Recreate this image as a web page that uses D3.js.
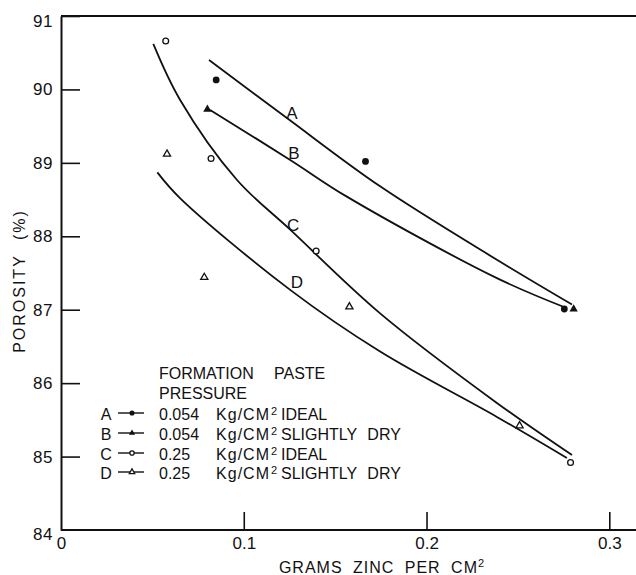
<!DOCTYPE html>
<html>
<head>
<meta charset="utf-8">
<script src="https://cdn.jsdelivr.net/npm/d3@7"></script>
<style>
  body { margin: 0; background: #fff; }
  text { font-family: "Liberation Sans", Arial, sans-serif; fill: #111; }
</style>
</head>
<body>
<svg id="chart" width="636" height="575"></svg>
<script>
// Axis ticks
const xTicks = [0, 0.1, 0.2, 0.3];
const xTickLabels = ["0", "0.1", "0.2", "0.3"];
const yTicks = [84, 85, 86, 87, 88, 89, 90, 91];

// Series keys and legend text
const seriesKeys = ["A", "B", "C", "D"];
const legendPressure = ["0.054", "0.054", "0.25", "0.25"];
const legendCondition = ["IDEAL", "SLIGHTLY DRY", "IDEAL", "SLIGHTLY DRY"];

// Measured points: [grams zinc per cm², porosity %]
const pointsA = [[0.0849, 90.13], [0.1666, 89.02], [0.2754, 87.01]];
const pointsB = [[0.0801, 89.73], [0.2805, 87.01]];
const pointsC = [[0.0573, 90.66], [0.0821, 89.06], [0.1396, 87.80], [0.2788, 84.92]];
const pointsD = [[0.0580, 89.12], [0.0784, 87.44], [0.1578, 87.04], [0.2509, 85.42]];

// Fitted curves
const curveA = [[0.0810, 90.40], [0.1236, 89.61], [0.1746, 88.68], [0.2385, 87.68], [0.2796, 87.07]];
const curveB = [[0.0816, 89.72], [0.1254, 89.04], [0.1564, 88.54], [0.2385, 87.43], [0.2759, 87.03]];
const curveC = [[0.0505, 90.62], [0.0651, 89.86], [0.0962, 88.77], [0.1254, 88.09], [0.1746, 86.95], [0.2385, 85.73], [0.2796, 85.02]];
const curveD = [[0.0527, 88.87], [0.0651, 88.52], [0.1254, 87.27], [0.1746, 86.43], [0.2385, 85.54], [0.2768, 84.98]];

// Curve label anchors (data units)
const curveLabelPos = [[0.1264, 89.6], [0.1275, 89.05], [0.1270, 88.07], [0.1290, 87.3]];

const svg = d3.select("#chart");
svg.append("rect").attr("width", 636).attr("height", 575).attr("fill", "#fff");

const x = d3.scaleLinear().domain([0, 0.3]).range([61, 609.3]);
const y = d3.scaleLinear().domain([84, 91]).range([530, 16]);

const ink = "#111";

// Frame lines (top and bottom run to the right edge)
svg.append("line").attr("x1", 61).attr("x2", 636).attr("y1", y(91)).attr("y2", y(91))
  .attr("stroke", ink).attr("stroke-width", 2);
svg.append("line").attr("x1", 61).attr("x2", 636).attr("y1", y(84)).attr("y2", y(84))
  .attr("stroke", ink).attr("stroke-width", 2);

// Y axis with inward ticks
const yAxis = svg.append("g").attr("transform", `translate(${x(0)},0)`)
  .call(d3.axisLeft(y).tickValues(yTicks).tickFormat(d3.format("d"))
    .tickSizeInner(-19).tickSizeOuter(0).tickPadding(8));
yAxis.select(".domain").attr("stroke", ink).attr("stroke-width", 2);
yAxis.selectAll(".tick line").attr("stroke", ink).attr("stroke-width", 1.6);
yAxis.selectAll(".tick text").attr("font-size", 17).attr("fill", ink)
  .attr("font-family", "\"Liberation Sans\", Arial, sans-serif").attr("letter-spacing", 0.5);
yAxis.selectAll(".tick").filter(d => d === 84).select("line").remove();
yAxis.selectAll(".tick").filter(d => d === 84).select("text").attr("dy", "0.55em");
yAxis.selectAll(".tick").filter(d => d === 91).select("text").attr("dy", "0.6em");

// X axis with inward ticks
const xAxis = svg.append("g").attr("transform", `translate(0,${y(84)})`)
  .call(d3.axisBottom(x).tickValues(xTicks).tickFormat((d, i) => xTickLabels[i])
    .tickSizeInner(-18).tickSizeOuter(0).tickPadding(7));
xAxis.select(".domain").remove();
xAxis.selectAll(".tick line").attr("stroke", ink).attr("stroke-width", 1.6);
xAxis.selectAll(".tick").filter(d => d === 0).select("line").remove();
xAxis.selectAll(".tick text").attr("font-size", 17).attr("fill", ink)
  .attr("font-family", "\"Liberation Sans\", Arial, sans-serif");

// Axis titles
svg.append("text")
  .attr("transform", `translate(25,281) rotate(-90)`)
  .attr("text-anchor", "middle").attr("font-size", 16)
  .attr("letter-spacing", 2).attr("word-spacing", 8)
  .text("POROSITY (%)");

const xt = svg.append("text").attr("x", 382).attr("y", 573)
  .attr("text-anchor", "middle").attr("font-size", 16)
  .attr("letter-spacing", 1).attr("word-spacing", 5);
xt.append("tspan").text("GRAMS ZINC PER CM");
xt.append("tspan").attr("font-size", 11).attr("dy", -6).text("2");

// Curves
const line = d3.line().x(d => x(d[0])).y(d => y(d[1])).curve(d3.curveCatmullRom.alpha(0.5));
[curveA, curveB, curveC, curveD].forEach(c => {
  svg.append("path").attr("d", line(c)).attr("fill", "none")
    .attr("stroke", ink).attr("stroke-width", 1.8).attr("stroke-linejoin", "round");
});

// Curve labels
seriesKeys.forEach((k, i) => {
  svg.append("text").attr("x", x(curveLabelPos[i][0])).attr("y", y(curveLabelPos[i][1]))
    .attr("text-anchor", "middle").attr("font-size", 17).text(k);
});

// Marker drawing
function marker(g, kind, cx, cy, scale) {
  const s = scale || 1;
  if (kind === "A") {
    g.append("circle").attr("cx", cx).attr("cy", cy).attr("r", 3.4 * s).attr("fill", ink);
  } else if (kind === "C") {
    g.append("circle").attr("cx", cx).attr("cy", cy).attr("r", 2.9 * s)
      .attr("fill", "#fff").attr("stroke", ink).attr("stroke-width", 1.3);
  } else if (kind === "B") {
    g.append("path").attr("d", d3.symbol(d3.symbolTriangle, 30 * s * s)())
      .attr("transform", `translate(${cx},${cy})`).attr("fill", ink);
  } else {
    g.append("path").attr("d", d3.symbol(d3.symbolTriangle, 22 * s * s)())
      .attr("transform", `translate(${cx},${cy})`)
      .attr("fill", "#fff").attr("stroke", ink).attr("stroke-width", 1.3);
  }
}

const pts = svg.append("g");
[pointsA, pointsB, pointsC, pointsD].forEach((p, i) => {
  p.forEach(d => marker(pts, seriesKeys[i], x(d[0]), y(d[1]), 1));
});

// Legend
const lg = svg.append("g");
lg.append("text").attr("x", 159).attr("y", 379).attr("font-size", 16).text("FORMATION");
lg.append("text").attr("x", 274).attr("y", 379).attr("font-size", 16).text("PASTE");
lg.append("text").attr("x", 159).attr("y", 399).attr("font-size", 16).text("PRESSURE");

const rowY = [420, 440, 460, 479];
seriesKeys.forEach((k, i) => {
  const by = rowY[i];
  lg.append("text").attr("x", 106).attr("y", by).attr("text-anchor", "middle")
    .attr("font-size", 16).text(k);
  lg.append("line").attr("x1", 118).attr("x2", 144).attr("y1", by - 7).attr("y2", by - 7)
    .attr("stroke", ink).attr("stroke-width", 1.4);
  marker(lg, k, 132, by - 7, 0.75);
  lg.append("text").attr("x", 159).attr("y", by).attr("font-size", 16).text(legendPressure[i]);
  const u = lg.append("text").attr("x", 270).attr("y", by).attr("text-anchor", "end")
    .attr("font-size", 16).attr("letter-spacing", 1).text("Kg/CM");
  lg.append("text").attr("x", 271).attr("y", by - 5).attr("font-size", 11).text("2");
  lg.append("text").attr("x", 281).attr("y", by).attr("font-size", 16)
    .attr("word-spacing", 6).text(legendCondition[i]);
});
</script>
</body>
</html>
